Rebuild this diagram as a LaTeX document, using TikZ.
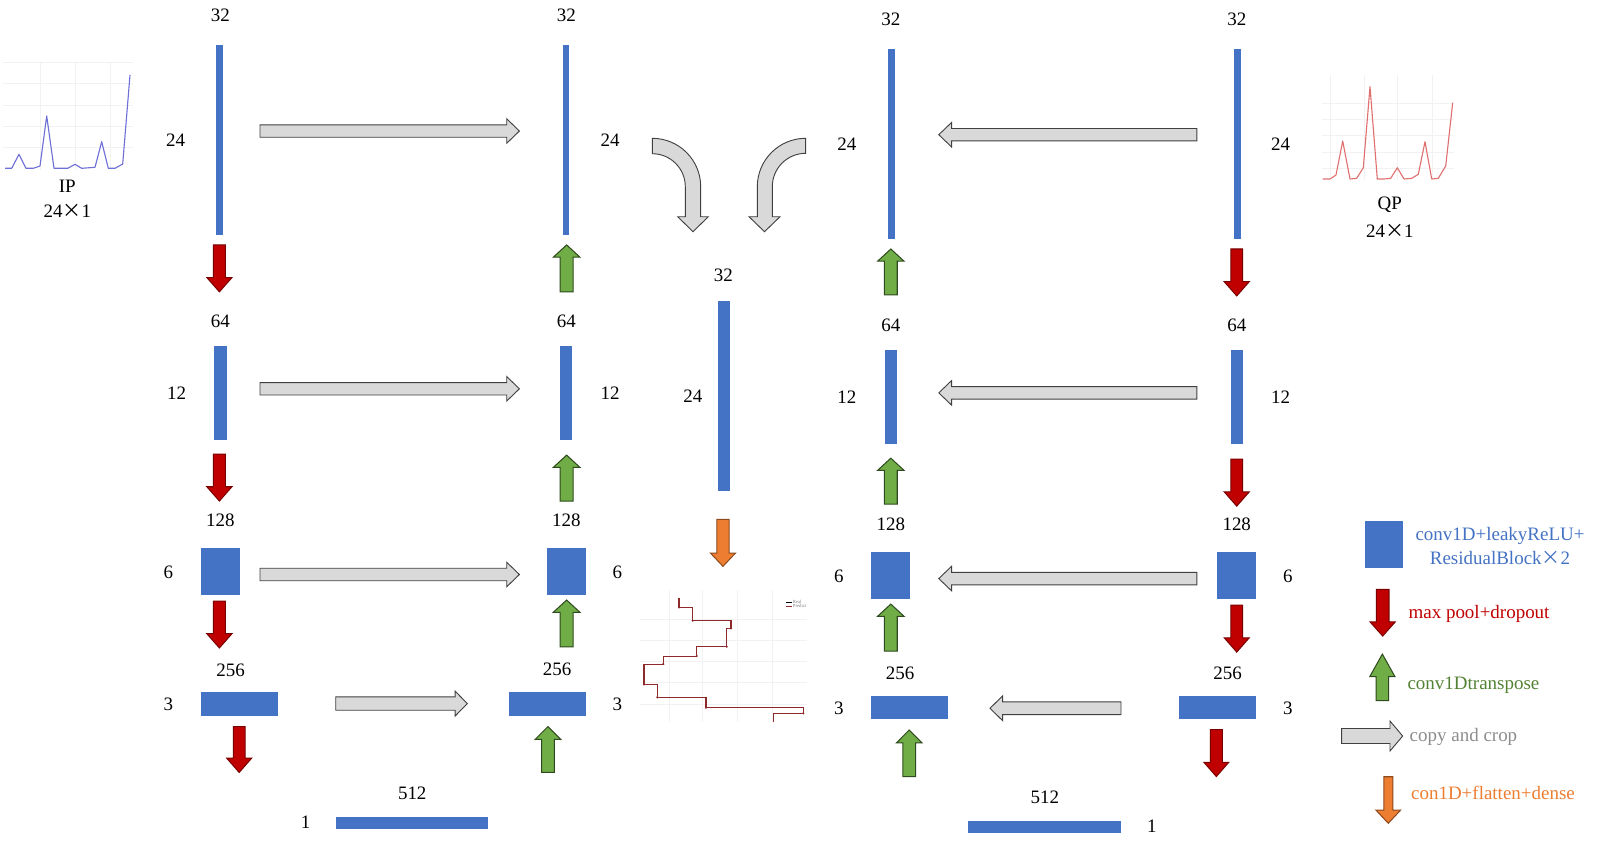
\documentclass[tikz,border=0pt]{standalone}
\usepackage{fontspec}
\setmainfont{Liberation Serif}
\newfontfamily\cjkx{Noto Sans CJK SC}
\newcommand{\tms}{{\cjkx\addfontfeatures{}×}}
\definecolor{blk}{HTML}{4472C4}
\definecolor{redf}{HTML}{C00000}
\definecolor{redd}{HTML}{7A0000}
\definecolor{grnf}{HTML}{70AD47}
\definecolor{grnd}{HTML}{2E4A1E}
\definecolor{gryf}{HTML}{D9D9D9}
\definecolor{gryd}{HTML}{404040}
\definecolor{orgf}{HTML}{ED7D31}
\definecolor{orgd}{HTML}{8C4A1D}
\definecolor{grnt}{HTML}{548235}
\definecolor{gryt}{HTML}{8C8C8C}
\definecolor{ipline}{HTML}{6F6FD8}
\definecolor{qpline}{HTML}{E07070}
\definecolor{gridc}{HTML}{F2F2F2}
\definecolor{stepc}{HTML}{8E2A2A}
\newcommand{\blockV}[7]{\draw[#1] ({#2-#5},#3) -- ({#2+#5},#3) -- ({#2+#5},#4) -- ({#2+#6},#4) -- (#2,#7) -- ({#2-#6},#4) -- ({#2-#5},#4) -- cycle;}
\newcommand{\blockH}[7]{\draw[#1] (#3,{#2-#5}) -- (#4,{#2-#5}) -- (#4,{#2-#6}) -- (#7,#2) -- (#4,{#2+#6}) -- (#4,{#2+#5}) -- (#3,{#2+#5}) -- cycle;}
\begin{document}
\begin{tikzpicture}[x=0.5pt,y=-0.5pt,
  num/.style={font=\fontsize{9.3}{11}\selectfont, inner sep=0pt},
  legt/.style={font=\fontsize{9.3}{11.5}\selectfont, inner sep=0pt, anchor=west},
  bar/.style={fill=blk},
  redarr/.style={fill=redf, draw=redd, line width=0.5pt, line join=miter},
  grnarr/.style={fill=grnf, draw=grnd, line width=0.5pt, line join=miter},
  gryarr/.style={fill=gryf, draw=gryd, line width=0.45pt, line join=miter},
  orgarr/.style={fill=orgf, draw=orgd, line width=0.5pt, line join=miter},
  gridl/.style={draw=gridc, line width=0.3pt}]
\useasboundingbox (0,0) rectangle (1568,837);

% ---------- IP chart ----------
\begin{scope}[scale=0.98]
  \foreach \gx in {40,75,110} \draw[gridl] (\gx,62) -- (\gx,170);
  \foreach \gy in {62,83.3,105,126.7,147.3} \draw[gridl] (3,\gy) -- (133,\gy);
  \draw[ipline, line width=0.55pt, line join=round] (5,168.3) -- (11.7,168.3) -- (19,154.3) -- (26,168.3) -- (33.3,168.3) -- (40,166) -- (46.7,116) -- (54,168.3) -- (67.7,168.3) -- (75,164.3) -- (81.7,168.3) -- (95,167.3) -- (101.7,141.7) -- (108.3,168.3) -- (115,168.3) -- (122.7,164) -- (130,75);
\end{scope}
\node[num] (ip) at (66,183) {IP};
\node[num] (ipd) at (66,207) {24\tms1};

% ---------- QP chart ----------
\begin{scope}[scale=0.98]
  \foreach \gx in {1330,1364,1397.3,1432.7} \draw[gridl] (\gx,75) -- (\gx,180);
  \foreach \gy in {103,119,135,152,168} \draw[gridl] (1322,\gy) -- (1454,\gy);
  \draw[qpline, line width=0.55pt, line join=round] (1322.7,179) -- (1330,179) -- (1336,175) -- (1342.7,141) -- (1350,179) -- (1356.7,178.3) -- (1363.3,167.7) -- (1370,86.7) -- (1377.3,179) -- (1384,179) -- (1390.7,178.3) -- (1397.3,167.7) -- (1404,179) -- (1411.7,178.3) -- (1418.3,174.3) -- (1425,141.7) -- (1431.7,179) -- (1438.3,178.3) -- (1445.7,166) -- (1452.7,102.7);
\end{scope}
\node[num] (qp) at (1362,201) {QP};
\node[num] (qpd) at (1362,226) {24\tms1};

% ---------- Column A (IP encoder) ----------
\node[num] (a32) at (216,15) {32};
\fill[bar] (212,44) rectangle (219,230);
\node[num] (a24) at (172,137) {24};
\blockV{redarr}{215}{240}{272}{5.8}{12.3}{286}
\node[num] (a64) at (216,315) {64};
\fill[bar] (210,339) rectangle (222,431);
\node[num] (a12) at (173,385) {12};
\blockV{redarr}{215}{445}{477}{5.8}{12.3}{491}
\node[num] (a128) at (216,510) {128};
\fill[bar] (197,537) rectangle (235,583);
\node[num] (a6) at (165,561) {6};
\blockV{redarr}{215}{589}{621}{5.8}{12.3}{635}
\node[num] (a256) at (226,657) {256};
\fill[bar] (197,678.5) rectangle (272,701.4);
\node[num] (a3) at (165,690) {3};
\blockV{redarr}{234.4}{712}{743}{5.8}{12.2}{757}

\node[num] (b512l) at (404,777) {512};
\fill[bar] (329,800.4) rectangle (478.5,812.4);
\node[num] (b1l) at (299.6,806) {1};

% copy and crop (left)
\blockH{gryarr}{128.4}{254.8}{496.6}{6.1}{12}{509}
\blockH{gryarr}{381}{254.8}{496.6}{6.1}{12}{509}
\blockH{gryarr}{563}{254.8}{496.6}{6.1}{12}{509}
\blockH{gryarr}{689.5}{329}{446}{6.5}{12.2}{458}

% ---------- Column B (IP decoder) ----------
\node[num] (b32) at (555,15) {32};
\fill[bar] (552,44) rectangle (558,230);
\node[num] (b24) at (598,137) {24};
\blockV{grnarr}{555.3}{286}{252}{6.3}{13}{240}
\node[num] (b64) at (555,315) {64};
\fill[bar] (549,339) rectangle (561,431);
\node[num] (b12) at (598,385) {12};
\blockV{grnarr}{555.3}{491}{458}{6.3}{13}{446}
\node[num] (b128) at (555,510) {128};
\fill[bar] (536,537) rectangle (574,583);
\node[num] (b6) at (605,561) {6};
\blockV{grnarr}{555.3}{634}{600}{6.3}{13}{588}
\node[num] (b256) at (546,656) {256};
\fill[bar] (499,678.5) rectangle (574,701.4);
\node[num] (b3) at (605,690) {3};
\blockV{grnarr}{537}{757}{724.5}{6.3}{12.5}{712}

% ---------- Middle ----------
\begin{scope}[scale=0.98]
  \draw[gryarr, fill=gryf, draw=gryd] (652.3,138.3) arc[start angle=-90, end angle=0, radius=48.4] -- (700.7,216.7) -- (708.3,216.7) -- (693,231.7) -- (677.7,216.7) -- (685.3,216.7) -- (685.3,186.7) arc[start angle=0, end angle=-90, radius=33] -- cycle;
  \draw[gryarr, fill=gryf, draw=gryd] (805.7,138.3) arc[start angle=-90, end angle=-180, radius=48.4] -- (757.3,216.7) -- (749,216.7) -- (764.5,231.7) -- (780,216.7) -- (772.3,216.7) -- (772.3,186.7) arc[start angle=-180, end angle=-90, radius=33.4] -- cycle;
\end{scope}
\node[num] (m32) at (709,270) {32};
\fill[bar] (704,295) rectangle (715,481);
\node[num] (m24) at (679,388) {24};
\blockV{orgarr}{708.5}{509}{542}{6}{12.3}{555}

% result chart
\begin{scope}[scale=0.98]
  \foreach \gx in {669,702.7,737.3,772.3} \draw[gridl] (\gx,590) -- (\gx,722);
  \foreach \gy in {619.3,640.7,661.7,682.7,704} \draw[gridl] (640,\gy) -- (807,\gy);
  \draw[stepc, line width=0.5pt] (679,598.3) -- (679,607.3) -- (692.7,607.3) -- (692.7,620.7) -- (731,620.7) -- (731,628.3) -- (726.7,628.3) -- (726.7,646.7) -- (696.7,646.7) -- (696.7,656) -- (663.3,656) -- (663.3,664) -- (644,664) -- (644,684.3) -- (657.3,684.3) -- (657.3,697.3) -- (706,697.3) -- (706,707.7) -- (803.3,707.7) -- (803.3,713.3) -- (773.3,713.3) -- (773.3,721.7);
  \foreach \p in {(679,607.3),(692.7,620.7),(731,628.3),(726.7,646.7),(696.7,656),(663.3,664),(644,684.3),(657.3,697.3),(706,707.7),(803.3,713.3)}
    \fill[stepc] \p circle[radius=1.2];
  \draw[black, line width=0.3pt] (786,602) -- (791.5,602);
  \draw[stepc, line width=0.3pt] (786,606) -- (791.5,606);
  \node[font=\fontsize{2.3}{2.6}\selectfont, inner sep=0pt, anchor=west, text=gray] (lreal) at (792.5,602) {Real};
  \node[font=\fontsize{2.3}{2.6}\selectfont, inner sep=0pt, anchor=west, text=gray] (lpred) at (792.5,606) {Predict};
\end{scope}

% ---------- Column C (QP decoder) ----------
\node[num] (c32) at (873,19) {32};
\fill[bar] (870,48) rectangle (877,234);
\node[num] (c24) at (830,141) {24};
\blockV{grnarr}{873}{289}{256}{6.3}{13}{244}
\node[num] (c64) at (873,319) {64};
\fill[bar] (867,343) rectangle (879,435);
\node[num] (c12) at (830,389) {12};
\blockV{grnarr}{873}{494}{461}{6.3}{13}{449}
\node[num] (c128) at (873,514) {128};
\fill[bar] (854,541) rectangle (892,587);
\node[num] (c6) at (822,565) {6};
\blockV{grnarr}{873}{638}{604}{6.3}{13}{592}
\node[num] (c256) at (882,660) {256};
\fill[bar] (854,681.8) rectangle (929.3,704.9);
\node[num] (c3) at (822,694) {3};
\blockV{grnarr}{891}{761}{728}{6.3}{12.5}{715.4}

\node[num] (b512r) at (1024,781) {512};
\fill[bar] (949,804.6) rectangle (1098.6,816.1);
\node[num] (b1r) at (1128.7,810) {1};

% copy and crop (right)
\blockH{gryarr}{132}{1173}{932.5}{6.1}{12}{920}
\blockH{gryarr}{385}{1173}{932.5}{6.1}{12}{920}
\blockH{gryarr}{567}{1173}{932.5}{6.1}{12}{920}
\blockH{gryarr}{694.1}{1098.6}{982.6}{6.2}{12.2}{970.2}

% ---------- Column D (QP encoder) ----------
\node[num] (d32) at (1212,19) {32};
\fill[bar] (1209,48) rectangle (1216,234);
\node[num] (d24) at (1255,141) {24};
\blockV{redarr}{1212}{244}{276}{5.8}{12.3}{290}
\node[num] (d64) at (1212,319) {64};
\fill[bar] (1206,343) rectangle (1218,435);
\node[num] (d12) at (1255,389) {12};
\blockV{redarr}{1212}{450}{482}{5.8}{12.3}{496}
\node[num] (d128) at (1212,514) {128};
\fill[bar] (1193,541) rectangle (1231,587);
\node[num] (d6) at (1262,565) {6};
\blockV{redarr}{1212}{593}{625}{5.8}{12.3}{639}
\node[num] (d256) at (1203,660) {256};
\fill[bar] (1155.7,681.8) rectangle (1231,704.9);
\node[num] (d3) at (1262,694) {3};
\blockV{redarr}{1192}{715}{747}{5.8}{12.2}{761}

% ---------- Legend ----------
\fill[bar] (1337.7,510.3) rectangle (1375.3,557);
\node[font=\fontsize{9.3}{12}\selectfont, inner sep=0pt, align=center, text=blk] (lg1) at (1470,535) {conv1D+leakyReLU+\\ResidualBlock\tms2};
\blockV{redarr}{1355}{577.5}{609.5}{6.2}{12.3}{623.3}
\node[legt, text=redf] (lg2) at (1380,601.7) {max pool+dropout};
\blockV{grnarr}{1354.7}{686.7}{663}{6.2}{12.3}{641}
\node[legt, text=grnt] (lg3) at (1379,672) {conv1Dtranspose};
\blockH{gryarr}{721.3}{1314.8}{1362.2}{7.35}{14.7}{1374.6}
\node[legt, text=gryt] (lg4) at (1381.1,722) {copy and crop};
\blockV{orgarr}{1360.5}{761.2}{793.8}{4.4}{12.2}{806.8}
\node[legt, text=orgf] (lg5) at (1382.5,776.8) {con1D+flatten+dense};

\end{tikzpicture}
\end{document}
